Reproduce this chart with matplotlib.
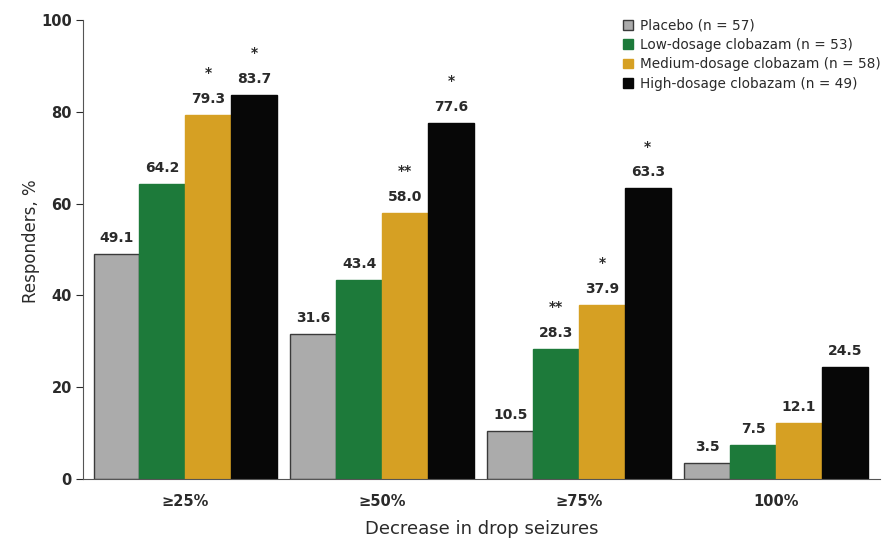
import numpy as np
import matplotlib
matplotlib.use("Agg")
import matplotlib.pyplot as plt

plt.rcParams['font.family'] = ['DejaVu Sans']

categories = ["\u226525%", "\u226550%", "\u226575%", "100%"]
series_names = [
    "Placebo (n = 57)",
    "Low-dosage clobazam (n = 53)",
    "Medium-dosage clobazam (n = 58)",
    "High-dosage clobazam (n = 49)",
]
placebo = [49.1, 31.6, 10.5, 3.5]
low_dose = [64.2, 43.4, 28.3, 7.5]
medium_dose = [79.3, 58.0, 37.9, 12.1]
high_dose = [83.7, 77.6, 63.3, 24.5]
significance = [
    ["", "", "", ""],
    ["", "", "**", ""],
    ["*", "**", "*", ""],
    ["*", "*", "*", ""],
]

colors = ["#ababab", "#1d7a3a", "#d6a023", "#070707"]
edges = ["#3a3a3a", "#1d7a3a", "#d6a023", "#070707"]
text_color = "#2a2a2a"

fig = plt.figure(figsize=(8.82, 5.42), dpi=100)
ax = fig.add_axes([0.094, 0.1162, 0.904, 0.847])

x = np.arange(len(categories))
width = 0.233
all_series = [placebo, low_dose, medium_dose, high_dose]
for i, vals in enumerate(all_series):
    pos = x + (i - 1.5) * width
    ax.bar(pos, vals, width, color=colors[i], edgecolor=edges[i],
           linewidth=1.0, label=series_names[i], zorder=2)
    for j, v in enumerate(vals):
        ax.annotate(f"{v:.1f}", (pos[j], v), xytext=(0, 11.5),
                    textcoords="offset points", ha="center", va="center",
                    fontsize=10, fontweight="bold", color=text_color)
        if significance[i][j]:
            ax.annotate(significance[i][j], (pos[j], v), xytext=(0, 30),
                        textcoords="offset points", ha="center", va="center",
                        fontsize=10, fontweight="bold", color=text_color)

ax.set_xlim(-0.52, 3.53)
ax.set_ylim(0, 100)
ax.set_yticks([0, 20, 40, 60, 80, 100])
ax.set_xticks(x)
ax.set_xticklabels(categories)
ax.tick_params(axis="y", length=5, width=0.8, labelsize=10.5, colors=text_color,
               pad=3)
ax.tick_params(axis="x", length=0, labelsize=10.5, colors=text_color, pad=11)
for lbl in ax.get_yticklabels() + ax.get_xticklabels():
    lbl.set_fontweight("bold")

for s in ["top", "right"]:
    ax.spines[s].set_visible(False)
ax.spines["left"].set_color("#555555")
ax.spines["bottom"].set_color("#555555")

ax.set_ylabel("Responders, %", fontsize=12, color=text_color)
ax.yaxis.set_label_coords(-0.054, 0.518)
ax.set_xlabel("Decrease in drop seizures", fontsize=13, color=text_color,
              labelpad=8)

leg = ax.legend(loc="upper right", bbox_to_anchor=(1.008, 1.015), frameon=False,
                fontsize=9.8, handlelength=0.7, handleheight=0.7,
                handletextpad=0.55, labelspacing=0.4, borderaxespad=0.0)
for t in leg.get_texts():
    t.set_color(text_color)

fig.savefig("out.png", dpi=100)
